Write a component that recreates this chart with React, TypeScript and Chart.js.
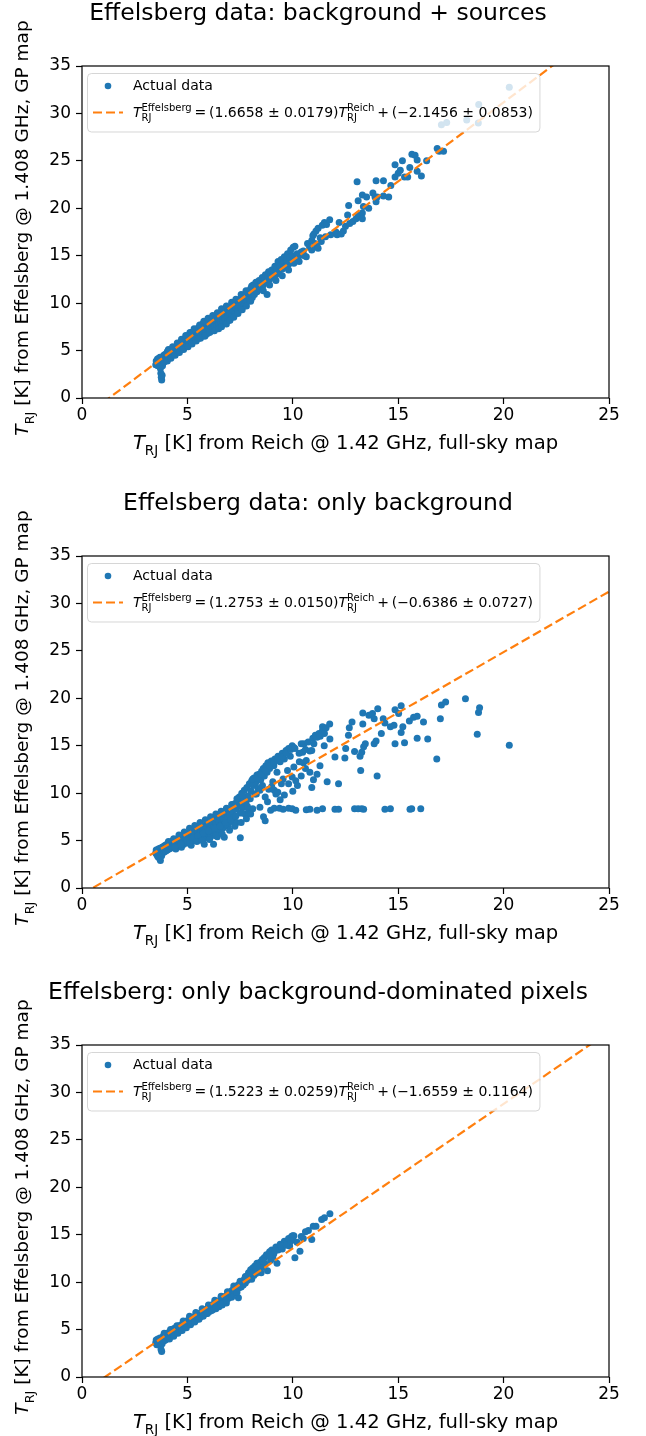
import React, { useEffect, useRef } from "react";
import { Chart, registerables } from "chart.js";
Chart.register(...registerables);

const FONT = "'DejaVu Sans', sans-serif";
const BLUE = "#1f77b4";
const ORANGE = "#ff7f0e";

type P = [number, number];

// ---------- Panel titles & legend text ----------
const titles = [
  "Effelsberg data: background + sources",
  "Effelsberg data: only background",
  "Effelsberg: only background-dominated pixels",
];
const slopeTexts = ["1.6658 ± 0.0179", "1.2753 ± 0.0150", "1.5223 ± 0.0259"];
const interceptTexts = ["−2.1456 ± 0.0853", "−0.6386 ± 0.0727", "−1.6559 ± 0.1164"];
const scatterLabel = "Actual data";
const xLabelRest = " [K] from Reich @ 1.42 GHz, full-sky map";
const yLabelRest = " [K] from Effelsberg @ 1.408 GHz, GP map";

// ---------- Axis ticks ----------
const xTicks = [0, 5, 10, 15, 20, 25];
const yTicks = [0, 5, 10, 15, 20, 25, 30, 35];

// ---------- Fit lines (endpoints at x = 0 and x = 25) ----------
const fitA: P[] = [[0, -2.1456], [25, 39.4994]];
const fitB: P[] = [[0, -0.6386], [25, 31.2439]];
const fitC: P[] = [[0, -1.6559], [25, 36.4016]];

// ---------- Data: background + sources ----------
const dataA: P[] = [
  [3.5,3.5],[3.52,3.9],[3.55,3.7],[3.58,4.1],[3.6,3.4],[3.62,3.8],[3.65,4.2],[3.68,3.6],[3.7,4.3],[3.72,3.1],
  [3.74,2.6],[3.76,2.2],[3.78,1.9],[3.8,2.4],[3.82,3.4],[3.85,4.0],[3.88,4.5],[3.9,3.8],[3.92,4.3],[3.95,4.6],
  [4.0,4.2],[4.02,4.6],[4.05,4.9],[4.08,4.4],[4.1,4.7],[4.15,5.0],[4.18,4.5],[4.2,4.8],[4.25,5.1],[4.28,4.6],
  [4.3,4.9],[4.35,5.2],[4.38,4.7],[4.4,5.0],[4.45,5.4],[4.48,4.9],[4.5,5.3],[4.55,5.0],[4.58,5.6],[4.6,5.3],
  [4.65,5.7],[4.68,5.1],[4.7,5.5],[4.75,5.9],[4.78,5.3],[4.8,5.7],[4.85,6.1],[4.88,5.5],[4.9,5.9],[4.95,6.3],
  [4.98,5.6],[5.0,6.0],[5.02,6.5],[5.05,5.8],[5.08,6.2],[5.1,6.7],[5.15,6.0],[5.18,6.4],[5.2,6.9],[5.25,6.2],
  [5.28,6.6],[5.3,7.0],[5.35,6.3],[5.38,6.8],[5.4,7.2],[5.45,6.5],[5.5,6.9],[5.52,7.4],[5.55,6.3],[5.6,7.1],
  [5.62,7.6],[5.65,6.6],[5.7,7.2],[5.72,7.8],[5.75,6.8],[5.8,7.4],[5.82,6.5],[5.85,7.9],[5.9,7.0],[5.92,7.6],
  [5.95,6.8],[6.0,7.8],[6.02,7.2],[6.05,8.1],[6.1,7.0],[6.12,7.5],[6.15,8.3],[6.2,7.3],[6.22,7.9],[6.25,8.6],
  [6.3,7.5],[6.32,8.2],[6.38,8.7],[6.4,7.6],[6.45,8.4],[6.5,7.8],[6.52,8.8],[6.58,8.0],[6.6,8.6],[6.65,9.0],
  [6.7,8.1],[6.75,8.8],[6.8,8.3],[6.82,9.2],[6.9,8.5],[6.92,9.3],[6.98,8.2],[7.0,9.0],[7.05,9.6],[7.1,8.6],
  [7.15,9.3],[7.2,9.8],[7.25,8.9],[7.3,9.6],[7.35,10.1],[7.4,9.2],[7.45,9.9],[7.5,10.4],[7.55,9.4],[7.6,10.2],
  [7.62,10.7],[7.68,9.7],[7.7,10.4],[7.75,11.0],[7.8,10.1],[7.85,10.7],[7.9,11.3],[7.95,10.4],[8.0,11.0],[8.02,11.6],
  [8.08,10.6],[8.1,11.3],[8.12,11.9],[8.18,10.9],[8.2,11.6],[8.25,12.2],[8.3,11.2],[8.35,11.8],[8.4,12.4],[8.45,11.5],
  [8.5,12.1],[8.55,12.7],[8.6,11.9],[8.65,12.5],[8.7,13.0],[8.75,12.2],[8.78,10.9],[8.8,12.8],[8.85,13.3],[8.9,12.5],
  [8.95,13.1],[9.0,13.5],[9.05,12.8],[9.1,13.4],[9.15,13.9],[9.2,13.0],[9.25,13.6],[9.3,14.4],[9.35,13.3],[9.4,13.9],
  [9.45,14.6],[9.5,13.6],[9.55,14.2],[9.6,14.9],[9.65,13.8],[9.7,14.5],[9.75,15.2],[9.8,14.1],[9.85,14.8],[9.9,15.6],
  [9.95,14.3],[10.0,15.0],[10.02,15.9],[10.05,14.2],[10.1,16.0],[10.12,14.5],[10.2,15.2],[10.3,15.0],[10.4,15.4],[10.5,15.5],
  [10.55,15.0],[10.64,14.9],[10.7,16.3],[10.8,15.9],[10.9,16.6],[10.95,17.1],[11.0,17.3],[11.05,16.3],[11.1,17.6],[11.15,16.0],
  [11.2,17.9],[11.3,16.9],[11.35,16.5],[11.4,18.2],[11.5,18.5],[11.55,17.0],[11.6,18.3],[11.75,18.8],[11.8,17.2],[12.05,17.5],
  [12.1,17.2],[12.2,18.5],[12.4,17.6],[12.5,18.1],[12.6,19.3],[12.65,20.3],[12.7,18.4],[12.85,18.6],[13.0,18.9],[13.05,22.8],
  [13.1,19.3],[13.1,20.8],[13.3,19.5],[13.35,20.2],[13.3,21.4],[13.5,21.2],[13.6,20.0],[13.8,21.6],[13.9,21.2],[14.0,21.2],
  [13.95,20.7],[13.95,22.9],[14.3,22.9],[14.3,21.3],[14.55,21.2],[14.65,22.4],[14.85,23.3],[14.85,24.6],[15.0,23.7],[15.1,24.0],
  [15.2,25.0],[15.3,23.3],[15.45,23.3],[15.55,24.3],[15.65,25.7],[15.8,25.6],[15.9,25.1],[15.9,23.9],[16.1,23.4],[16.35,25.0],
  [16.85,26.3],[16.95,26.0],[17.15,26.0],
  [17.05,28.8],[17.3,29.05],[18.25,29.3],[18.8,29.0],[18.82,30.95],[20.27,32.75],
  [4.05,3.9],[4.22,4.2],[4.42,4.5],[4.62,4.8],[4.82,5.1],[5.03,5.4],[5.22,5.7],[5.42,6.0],[5.62,6.3],[5.85,6.6],
  [6.05,6.9],[6.28,7.1],[6.48,7.3],[6.62,7.5],[6.85,7.8],[7.02,8.2],[7.2,8.5],[7.4,8.9],[7.6,9.3],[7.8,9.7],
  [8.0,10.2],[4.1,5.1],[4.3,5.4],[4.52,5.8],[4.72,6.2],[4.92,6.6],[5.12,6.9],[5.32,7.3],[5.58,7.7],[5.78,8.1],
  [5.98,8.4],[6.2,8.7],[6.42,9.0],[6.62,9.4],[6.85,9.7],[7.1,10.1],[7.3,10.4],[7.55,10.9],[7.78,11.3],[8.05,11.8],
  [8.6,11.3],[8.9,11.9],[9.2,12.4],[9.5,12.9],[9.8,13.5],[10.3,14.4],[10.9,15.6],[11.2,15.8],[12.3,17.3],[13.3,18.9],
];

// ---------- Data: only background ----------
const dataB: P[] = [
  [3.5,3.7],[3.52,4.0],[3.55,3.5],[3.58,3.9],[3.6,3.3],[3.62,4.1],[3.65,3.7],[3.68,3.1],[3.7,4.2],[3.72,2.9],
  [3.75,3.9],[3.78,3.4],[3.8,4.3],[3.82,3.7],[3.85,4.0],[3.88,4.4],[3.9,3.8],[3.92,4.1],[3.95,4.5],[3.98,3.9],
  [4.0,4.3],[4.03,4.6],[4.05,4.0],[4.08,4.4],[4.1,4.7],[4.13,4.1],[4.15,4.5],[4.18,4.8],[4.2,4.2],[4.23,4.6],
  [4.25,4.9],[4.28,4.3],[4.3,4.7],[4.33,5.0],[4.36,4.4],[4.4,4.8],[4.42,5.1],[4.45,4.1],[4.48,4.6],[4.5,5.0],
  [4.53,5.2],[4.55,4.4],[4.58,4.8],[4.6,5.3],[4.63,4.6],[4.66,5.0],[4.7,5.4],[4.72,4.3],[4.75,4.8],[4.78,5.2],
  [4.8,5.5],[4.83,4.6],[4.86,5.0],[4.9,5.6],[4.92,4.8],[4.95,5.3],[4.98,5.7],[5.0,4.9],[5.03,5.4],[5.06,5.8],
  [5.1,5.1],[5.12,5.5],[5.15,5.9],[5.18,4.5],[5.2,5.2],[5.23,5.6],[5.26,6.0],[5.3,5.0],[5.33,5.4],[5.36,5.8],
  [5.4,6.2],[5.43,5.1],[5.46,5.5],[5.5,6.0],[5.53,6.3],[5.56,5.3],[5.6,5.7],[5.63,6.1],[5.66,6.5],[5.7,5.2],
  [5.73,5.9],[5.76,6.3],[5.8,4.6],[5.82,5.5],[5.85,6.6],[5.88,6.0],[5.92,5.3],[5.95,6.4],[5.98,6.8],[6.0,5.7],
  [6.05,6.2],[6.08,6.9],[6.1,5.4],[6.15,6.5],[6.18,7.0],[6.2,5.9],[6.24,4.6],[6.25,6.4],[6.3,7.2],[6.33,5.8],
  [6.36,6.8],[6.4,7.3],[6.42,5.4],[6.46,6.2],[6.5,7.0],[6.53,7.5],[6.56,5.9],[6.6,6.7],[6.64,7.6],[6.68,6.3],
  [6.72,7.2],[6.75,5.35],[6.78,7.8],[6.82,6.8],[6.86,8.0],[6.9,7.4],[6.94,6.5],[6.98,8.2],[7.02,7.7],[7.06,8.4],
  [7.1,7.0],[7.14,8.1],[7.18,8.7],[7.22,7.5],[7.26,8.9],[7.3,8.3],[7.34,6.9],[7.38,9.2],[7.42,8.6],[7.46,9.6],
  [7.5,7.9],[7.51,5.3],[7.55,9.0],[7.58,10.0],[7.62,8.5],[7.66,9.4],[7.7,10.3],[7.74,7.8],[7.78,9.0],[7.82,10.6],
  [7.86,9.7],[7.9,8.3],[7.94,11.0],[7.98,9.4],[8.02,10.2],[8.05,11.3],[8.1,8.35],[8.12,10.8],[8.16,11.6],[8.2,9.9],
  [8.24,11.1],[8.27,9.9],[8.3,11.9],[8.35,10.5],[8.4,12.0],[8.44,10.3],[8.44,8.5],[8.48,11.4],[8.52,12.3],[8.56,10.8],
  [8.6,12.6],[8.61,7.5],[8.65,11.8],[8.69,9.6],[8.69,7.1],[8.72,12.9],[8.78,12.2],[8.82,13.2],[8.86,10.4],[8.9,12.6],
  [8.95,8.2],[8.98,13.4],[9.05,11.2],[9.1,12.9],[9.12,10.3],[9.15,13.6],[9.12,8.4],[9.25,12.2],[9.29,10.1],[9.3,13.9],
  [9.37,8.4],[9.4,13.3],[9.46,11.0],[9.5,14.2],[9.54,8.3],[9.54,11.5],[9.6,13.6],[9.68,14.5],[9.75,12.4],[9.8,14.7],
  [9.8,11.0],[9.8,8.4],[9.88,13.9],[9.97,15.0],[9.97,11.7],[9.97,8.35],[10.05,12.75],[10.05,14.8],[10.14,11.3],[10.14,8.2],
  [10.22,10.8],[10.31,13.3],[10.4,15.2],[10.47,14.3],[10.53,15.2],[10.5,13.2],[10.64,13.45],[10.64,8.25],[10.73,15.4],[10.81,12.2],
  [10.81,14.45],[10.81,8.3],[10.9,10.6],[10.9,14.5],[10.95,15.8],[10.98,11.4],[11.07,16.1],[11.15,12.0],[11.15,15.9],[11.15,8.2],
  [11.24,16.3],[11.29,12.9],[11.41,16.6],[11.41,17.0],[11.41,8.35],[11.49,15.0],[11.49,16.7],[11.58,16.9],[11.63,11.2],[11.75,17.3],
  [11.76,15.7],[12.0,13.8],[12.0,8.3],[12.17,11.0],[12.17,8.3],[12.47,13.7],[12.51,14.7],[12.64,16.1],[12.68,16.9],[12.81,17.5],
  [12.93,14.4],[12.93,8.35],[13.1,8.35],[13.19,13.9],[13.22,12.4],[13.27,14.3],[13.27,8.35],[13.32,18.45],[13.32,17.3],[13.36,14.9],
  [13.36,8.3],[13.44,15.2],[13.61,18.2],[13.78,18.4],[13.86,15.2],[13.86,17.85],[13.95,15.5],[14.0,11.8],[14.03,18.9],[14.2,16.3],
  [14.29,17.85],[14.37,17.4],[14.37,8.3],[14.63,17.0],[14.63,8.35],[14.8,17.15],[14.85,15.2],[14.85,18.8],[15.02,18.4],[15.14,19.2],
  [15.14,16.4],[15.22,17.0],[15.3,15.3],[15.53,17.6],[15.56,8.3],[15.64,8.35],[15.73,18.0],[15.9,18.1],[15.9,15.8],[16.07,8.35],
  [16.2,17.5],[16.4,15.7],[16.83,13.6],[17.0,17.85],[17.05,19.3],[17.25,19.6],[18.19,19.96],[18.75,16.2],[18.81,18.5],[18.86,19.0],
  [20.27,15.04],
  [8.1,11.5],[8.3,11.6],[8.5,12.0],[8.7,12.4],[8.9,12.9],[9.1,13.2],[9.3,13.5],[9.5,13.8],[9.7,14.2],[9.9,14.6],
  [10.1,14.7],[10.3,14.2],[10.6,14.6],[11.0,15.2],[11.3,16.0],[11.5,16.3],[9.0,10.7],[9.2,9.9],[9.6,9.8],[10.0,10.2],
  [10.4,11.8],[10.6,12.6],[8.8,9.1],[9.4,9.3],
  [4.1,4.9],[4.35,5.2],[4.6,5.6],[4.85,5.9],[5.1,6.3],[5.35,6.6],[5.6,6.9],[5.85,7.2],[6.1,7.5],[6.35,7.8],
  [6.6,8.1],[6.85,8.4],[7.1,8.8],[7.35,9.4],[7.6,9.8],[4.4,4.3],[4.7,4.6],[5.0,5.0],[5.25,5.3],[5.5,5.5],
  [5.75,5.8],[6.0,6.0],[6.3,6.3],[6.55,6.5],[6.8,6.9],[7.05,7.2],[7.3,7.6],[7.6,7.9],[7.85,8.6],[5.1,4.7],
  [5.45,4.9],[5.7,5.0],[6.05,5.1],[6.35,5.5],[6.65,5.7],[7.0,6.1],[7.25,6.5],[7.55,6.9],[7.8,7.3],[8.0,7.8],
];

// ---------- Data: only background-dominated pixels ----------
const dataC: P[] = [
  [3.5,3.6],[3.52,3.9],[3.55,3.4],[3.58,3.8],[3.6,4.0],[3.63,3.6],[3.66,3.9],[3.7,4.1],[3.72,3.3],[3.75,2.9],
  [3.78,2.7],[3.8,3.5],[3.82,4.0],[3.85,4.3],[3.88,3.8],[3.9,4.1],[3.93,4.4],[3.96,3.9],[4.0,4.3],[4.03,4.6],
  [4.06,4.1],[4.1,4.5],[4.13,4.7],[4.16,4.3],[4.2,4.6],[4.24,4.9],[4.28,4.4],[4.32,4.8],[4.36,5.1],[4.4,4.6],
  [4.44,5.0],[4.48,5.2],[4.52,4.8],[4.56,5.1],[4.6,5.4],[4.64,4.9],[4.68,5.3],[4.72,5.5],[4.76,5.1],[4.8,5.5],
  [4.84,5.7],[4.88,5.3],[4.92,5.7],[4.96,5.9],[5.0,5.5],[5.05,5.9],[5.1,6.1],[5.15,5.7],[5.2,6.1],[5.25,6.3],
  [5.3,5.9],[5.35,6.3],[5.4,6.5],[5.45,6.1],[5.5,6.5],[5.55,6.7],[5.6,6.3],[5.65,6.7],[5.7,6.9],[5.75,6.5],
  [5.8,6.9],[5.85,7.1],[5.9,6.7],[5.95,7.2],[6.0,7.4],[6.05,6.9],[6.1,7.4],[6.15,7.6],[6.2,7.1],[6.25,7.6],
  [6.3,7.8],[6.35,7.2],[6.4,7.8],[6.45,8.0],[6.5,7.4],[6.55,7.9],[6.6,8.2],[6.65,7.6],[6.7,8.3],[6.75,7.9],
  [6.8,8.5],[6.85,7.8],[6.9,8.7],[6.95,8.3],[7.0,8.9],[7.05,8.5],[7.1,9.1],[7.15,8.7],[7.2,9.3],[7.25,9.0],
  [7.3,9.5],[7.35,9.2],[7.4,9.7],[7.42,8.35],[7.45,9.4],[7.5,9.8],[7.55,9.5],[7.6,10.0],[7.65,9.7],[7.7,10.3],
  [7.75,9.9],[7.8,10.6],[7.85,10.2],[7.9,11.0],[7.95,10.5],[8.0,11.3],[8.05,10.3],[8.1,11.5],[8.15,10.7],[8.2,11.7],
  [8.25,10.9],[8.3,12.0],[8.35,11.2],[8.4,11.5],[8.45,12.1],[8.5,11.0],[8.55,12.4],[8.6,11.6],[8.65,12.6],[8.7,11.9],
  [8.75,12.9],[8.8,11.2],[8.84,12.9],[8.9,13.2],[8.95,12.3],[9.0,13.4],[9.05,12.6],[9.1,13.0],[9.2,13.7],[9.25,12.0],
  [9.3,13.4],[9.4,14.0],[9.5,13.5],[9.6,14.3],[9.71,14.14],[9.8,14.6],[9.85,13.8],[9.95,14.85],[10.0,14.5],[10.05,14.9],
  [10.1,12.56],[10.2,14.2],[10.34,13.26],[10.5,14.6],[10.6,15.3],[10.74,15.45],[10.9,14.5],[10.97,15.9],[11.1,15.9],[11.37,16.6],
  [11.5,16.8],[11.76,17.2],
  [3.9,4.6],[4.15,4.0],[4.35,4.3],[4.55,4.6],[4.75,4.9],[4.95,5.2],[5.15,5.5],[5.35,5.8],[5.55,6.1],[5.75,6.4],
  [5.95,6.7],[6.15,7.0],[6.35,7.4],[6.6,7.7],[6.85,8.1],[7.1,8.4],[7.35,8.9],[4.2,5.0],[4.5,5.4],[4.8,5.9],
  [5.1,6.4],[5.4,6.8],[5.7,7.2],[6.0,7.6],[6.3,8.1],[6.6,8.5],[6.9,9.0],[7.2,9.6],[7.5,10.1],[7.75,10.6],
  [8.0,11.0],[8.3,11.6],[8.6,12.2],[8.9,12.7],[9.15,13.3],[9.45,13.8],[9.7,13.9],[10.0,14.9],[9.9,14.3],[10.4,14.8],
];

const fits = [fitA, fitB, fitC];
const datas = [dataA, dataB, dataC];
const panelTops = [0, 490, 979];

// ---------- Rich text helper (italic T with sub/superscripts) ----------
type Seg = { t: string; it?: boolean; sub?: string; sup?: string };

function richWidth(ctx: CanvasRenderingContext2D, segs: Seg[], size: number, small: number) {
  let w = 0;
  for (const s of segs) {
    ctx.font = `${s.it ? "italic " : ""}${size}px ${FONT}`;
    w += ctx.measureText(s.t).width;
    if (s.sub || s.sup) {
      ctx.font = `${small}px ${FONT}`;
      w += Math.max(s.sub ? ctx.measureText(s.sub).width : 0, s.sup ? ctx.measureText(s.sup).width : 0);
    }
  }
  return w;
}

function drawRich(ctx: CanvasRenderingContext2D, segs: Seg[], x: number, y: number, size: number, small: number) {
  ctx.textBaseline = "alphabetic";
  ctx.textAlign = "left";
  for (const s of segs) {
    ctx.font = `${s.it ? "italic " : ""}${size}px ${FONT}`;
    ctx.fillText(s.t, x, y);
    x += ctx.measureText(s.t).width;
    if (s.sub || s.sup) {
      ctx.font = `${small}px ${FONT}`;
      let w = 0;
      if (s.sub) {
        ctx.fillText(s.sub, x, y + size * 0.3);
        w = Math.max(w, ctx.measureText(s.sub).width);
      }
      if (s.sup) {
        ctx.fillText(s.sup, x, y - size * 0.42);
        w = Math.max(w, ctx.measureText(s.sup).width);
      }
      x += w;
    }
  }
  return x;
}

function makeDecor(idx: number) {
  return {
    id: "decor" + idx,
    afterDraw(chart: any) {
      const ctx: CanvasRenderingContext2D = chart.ctx;
      const a = chart.chartArea;
      ctx.save();
      // frame
      ctx.strokeStyle = "#000";
      ctx.lineWidth = 1.2;
      ctx.setLineDash([]);
      ctx.strokeRect(a.left, a.top, a.right - a.left, a.bottom - a.top);

      // title
      ctx.fillStyle = "#000";
      ctx.font = `23.5px ${FONT}`;
      ctx.textAlign = "center";
      ctx.textBaseline = "middle";
      ctx.fillText(titles[idx], 318, 14);

      // x label
      const xl: Seg[] = [{ t: "T", it: true, sub: "RJ" }, { t: xLabelRest }];
      const xs = 19.6, xsm = 13.5;
      const xw = richWidth(ctx, xl, xs, xsm);
      drawRich(ctx, xl, (a.left + a.right) / 2 - xw / 2, 449, xs, xsm);

      // y label
      ctx.save();
      ctx.translate(28, (a.top + a.bottom) / 2 - 4);
      ctx.rotate(-Math.PI / 2);
      const yl: Seg[] = [{ t: "T", it: true, sub: "RJ" }, { t: yLabelRest }];
      const ys = 18.5, ysm = 12.8;
      const yw = richWidth(ctx, yl, ys, ysm);
      drawRich(ctx, yl, -yw / 2, 0, ys, ysm);
      ctx.restore();

      // legend
      const eq: Seg[] = [
        { t: "T", it: true, sub: "RJ", sup: "Effelsberg" },
        { t: "\u2009=\u2009(" + slopeTexts[idx] + ")" },
        { t: "T", it: true, sub: "RJ", sup: "Reich" },
        { t: "\u2009+\u2009(" + interceptTexts[idx] + ")" },
      ];
      const ls = 14, lsm = 10;
      const ew = richWidth(ctx, eq, ls, lsm);
      const bx = 87.5, by = a.top + 7.5, bw = 133 - 87.5 + ew + 7, bh = 58.5;
      ctx.beginPath();
      const r = 4;
      ctx.moveTo(bx + r, by);
      ctx.lineTo(bx + bw - r, by);
      ctx.arcTo(bx + bw, by, bx + bw, by + r, r);
      ctx.lineTo(bx + bw, by + bh - r);
      ctx.arcTo(bx + bw, by + bh, bx + bw - r, by + bh, r);
      ctx.lineTo(bx + r, by + bh);
      ctx.arcTo(bx, by + bh, bx, by + bh - r, r);
      ctx.lineTo(bx, by + r);
      ctx.arcTo(bx, by, bx + r, by, r);
      ctx.closePath();
      ctx.fillStyle = "rgba(255,255,255,0.8)";
      ctx.fill();
      ctx.strokeStyle = "rgba(204,204,204,0.8)";
      ctx.lineWidth = 1;
      ctx.stroke();

      ctx.fillStyle = BLUE;
      ctx.beginPath();
      ctx.arc(108, a.top + 20, 3.3, 0, Math.PI * 2);
      ctx.fill();
      ctx.fillStyle = "#000";
      ctx.font = `14px ${FONT}`;
      ctx.textAlign = "left";
      ctx.textBaseline = "middle";
      ctx.fillText(scatterLabel, 133, a.top + 20);

      ctx.strokeStyle = ORANGE;
      ctx.lineWidth = 2.2;
      ctx.setLineDash([9, 4]);
      ctx.beginPath();
      ctx.moveTo(93, a.top + 46.5);
      ctx.lineTo(123, a.top + 46.5);
      ctx.stroke();
      ctx.setLineDash([]);

      ctx.fillStyle = "#000";
      drawRich(ctx, eq, 133, a.top + 51, ls, lsm);
      ctx.restore();
    },
  };
}

function Panel({ idx }: { idx: number }) {
  const ref = useRef<HTMLCanvasElement>(null);
  useEffect(() => {
    const canvas = ref.current;
    if (!canvas) return;
    const tickFont = { family: FONT, size: 17 };
    const chart = new Chart(canvas, {
      type: "scatter",
      data: {
        datasets: [
          {
            type: "line",
            label: "fit",
            data: fits[idx].map(([x, y]) => ({ x, y })),
            borderColor: ORANGE,
            borderWidth: 2.2,
            borderDash: [9, 4],
            pointRadius: 0,
            fill: false,
            clip: 0,
            order: 0,
          } as any,
          {
            type: "scatter",
            label: scatterLabel,
            data: datas[idx].map(([x, y]) => ({ x, y })),
            backgroundColor: BLUE,
            borderColor: BLUE,
            borderWidth: 0,
            pointRadius: 3.5,
            order: 1,
          },
        ],
      },
      options: {
        animation: false,
        responsive: false,
        maintainAspectRatio: false,
        events: [],
        layout: { padding: { left: 0, right: 37, top: 66, bottom: 0 } },
        plugins: { legend: { display: false }, tooltip: { enabled: false }, title: { display: false } },
        scales: {
          x: {
            type: "linear",
            min: 0,
            max: 25,
            afterBuildTicks: (s: any) => { s.ticks = xTicks.map((v) => ({ value: v })); },
            ticks: { font: tickFont, color: "#000", padding: 1 },
            grid: { display: true, drawOnChartArea: false, drawTicks: true, tickLength: 6, tickColor: "#000", tickWidth: 1.2 },
            border: { display: false },
            afterFit: (s: any) => { s.height = 92; },
          },
          y: {
            type: "linear",
            min: 0,
            max: 35,
            afterBuildTicks: (s: any) => { s.ticks = yTicks.map((v) => ({ value: v })); },
            ticks: { font: tickFont, color: "#000", padding: 5 },
            grid: { display: true, drawOnChartArea: false, drawTicks: true, tickLength: 6, tickColor: "#000", tickWidth: 1.2 },
            border: { display: false },
            afterFit: (s: any) => { s.width = 82; },
          },
        },
      } as any,
      plugins: [makeDecor(idx)],
    });
    return () => chart.destroy();
  }, [idx]);
  return (
    <canvas
      ref={ref}
      width={646}
      height={490}
      style={{ position: "absolute", left: 0, top: panelTops[idx], width: 646, height: 490 }}
    />
  );
}

export default function App() {
  return (
    <div style={{ position: "absolute", left: 0, top: 0, width: 646, height: 1436, background: "#fff" }}>
      <Panel idx={0} />
      <Panel idx={1} />
      <Panel idx={2} />
    </div>
  );
}
